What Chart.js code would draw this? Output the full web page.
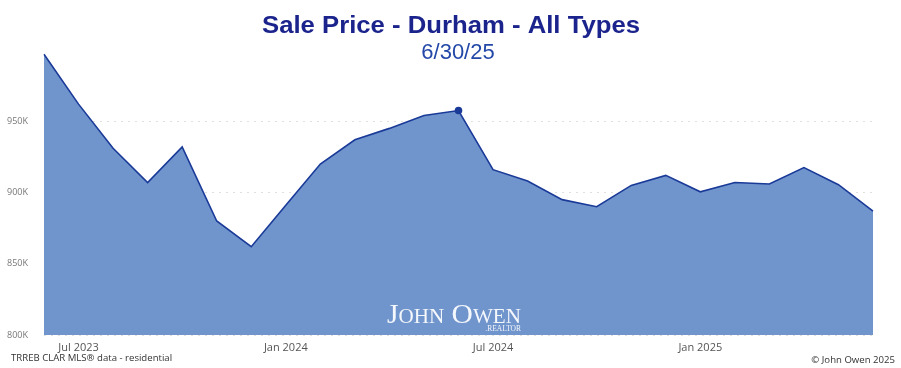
<!DOCTYPE html>
<html>
<head>
<meta charset="utf-8">
<script src="https://cdn.jsdelivr.net/npm/chart.js@4.4.1/dist/chart.umd.min.js"></script>
<style>
html,body{margin:0;padding:0;background:#fff;}
#wrap{width:901px;height:368px;position:relative;}
</style>
</head>
<body>
<div id="wrap"><canvas id="c" width="901" height="368"></canvas></div>
<script>
// ---- data ----
const months = ["Jun 2023","Jul 2023","Aug 2023","Sep 2023","Oct 2023","Nov 2023","Dec 2023",
  "Jan 2024","Feb 2024","Mar 2024","Apr 2024","May 2024","Jun 2024","Jul 2024","Aug 2024",
  "Sep 2024","Oct 2024","Nov 2024","Dec 2024","Jan 2025","Feb 2025","Mar 2025","Apr 2025",
  "May 2025","Jun 2025"];
const salePrice = [997000, 962000, 931000, 907000, 932000, 880000, 862000,
  891000, 920000, 937000, 945000, 954000, 957500, 916000, 908000,
  895000, 890000, 905000, 912000, 900500, 907000, 906000, 917500,
  905500, 887000];
const shownTickLabels = ["Jul 2023","Jan 2024","Jul 2024","Jan 2025"];
const yTickValues = [800000, 850000, 900000, 950000];
const highlightIndex = 12;
const titleText = "Sale Price - Durham - All Types";
const subtitleText = "6/30/25";
const sourceText = "TRREB CLAR MLS\u00AE data - residential";
const copyrightText = "\u00A9 John Owen 2025";

const overlay = {
  id: 'overlay',
  afterDatasetsDraw(chart) {
    const ctx = chart.ctx;
    ctx.save();
    ctx.fillStyle = 'rgba(255,255,255,0.92)';
    ctx.textBaseline = 'alphabetic';
    ctx.textAlign = 'left';
    ctx.font = "small-caps 28px 'Liberation Serif', 'DejaVu Serif', serif";
    const wm = "John Owen";
    const w = ctx.measureText(wm).width;
    ctx.translate(387, 323);
    ctx.scale(134 / w, 1);
    ctx.fillText(wm, 0, 0);
    ctx.restore();
    ctx.save();
    ctx.fillStyle = 'rgba(255,255,255,0.92)';
    ctx.font = "7.5px 'Liberation Serif', 'DejaVu Serif', serif";
    ctx.textAlign = 'right';
    ctx.fillText(".REALTOR", 521, 331);
    ctx.restore();
  },
  afterDraw(chart) {
    const ctx = chart.ctx;
    ctx.save();
    ctx.textBaseline = 'alphabetic';
    ctx.fillStyle = '#1b238c';
    ctx.font = "bold 23px 'Liberation Sans', Arial, sans-serif";
    let tw = ctx.measureText(titleText).width;
    ctx.save();
    ctx.translate(451, 33);
    ctx.scale(378 / tw, 1);
    ctx.textAlign = 'center';
    ctx.fillText(titleText, 0, 0);
    ctx.restore();
    ctx.fillStyle = '#2348a8';
    ctx.font = "22px 'Liberation Sans', Arial, sans-serif";
    ctx.textAlign = 'center';
    ctx.fillText(subtitleText, 458, 59);
    ctx.fillStyle = '#333';
    ctx.font = "9.6px 'Open Sans', 'DejaVu Sans', sans-serif";
    ctx.textAlign = 'left';
    ctx.fillText(sourceText, 11, 361);
    ctx.textAlign = 'right';
    ctx.fillText(copyrightText, 895, 363);
    ctx.restore();
  }
};

new Chart(document.getElementById('c'), {
  type: 'line',
  data: {
    labels: months,
    datasets: [{
      data: salePrice,
      borderColor: '#1a3a98',
      borderWidth: 1.6,
      backgroundColor: '#7094cc',
      fill: 'start',
      tension: 0,
      pointRadius: ctx => ctx.dataIndex === highlightIndex ? 3 : 0,
      pointBackgroundColor: '#1a3a98',
      pointBorderColor: '#1a3a98',
      pointHoverRadius: 0
    }]
  },
  options: {
    responsive: false,
    animation: false,
    events: [],
    layout: { padding: { top: 50, right: 28, left: 0, bottom: 0 } },
    plugins: { legend: { display: false }, tooltip: { enabled: false }, title: { display: false } },
    scales: {
      x: {
        type: 'category',
        offset: false,
        grid: { display: false, drawTicks: false },
        border: { display: false },
        afterFit(s) { s.height = 33; },
        ticks: {
          autoSkip: false,
          maxRotation: 0,
          padding: 6,
          color: '#555',
          font: { size: 11, family: "'Open Sans', 'DejaVu Sans', sans-serif" },
          callback(v, i) {
            const l = months[i];
            return shownTickLabels.includes(l) ? l : '';
          }
        }
      },
      y: {
        min: 800000,
        max: 1000000,
        afterFit(s) { s.width = 44; },
        afterBuildTicks(s) { s.ticks = yTickValues.map(v => ({ value: v })); },
        grid: { color: 'rgba(0,0,0,0.12)', drawTicks: false, lineWidth: 1 },
        border: { display: false, dash: [2, 5] },
        ticks: {
          padding: 16,
          color: '#777',
          font: { size: 9, family: "'Open Sans', 'DejaVu Sans', sans-serif" },
          callback(v) { return (v / 1000) + 'K'; }
        }
      }
    }
  },
  plugins: [overlay]
});
</script>
</body>
</html>
